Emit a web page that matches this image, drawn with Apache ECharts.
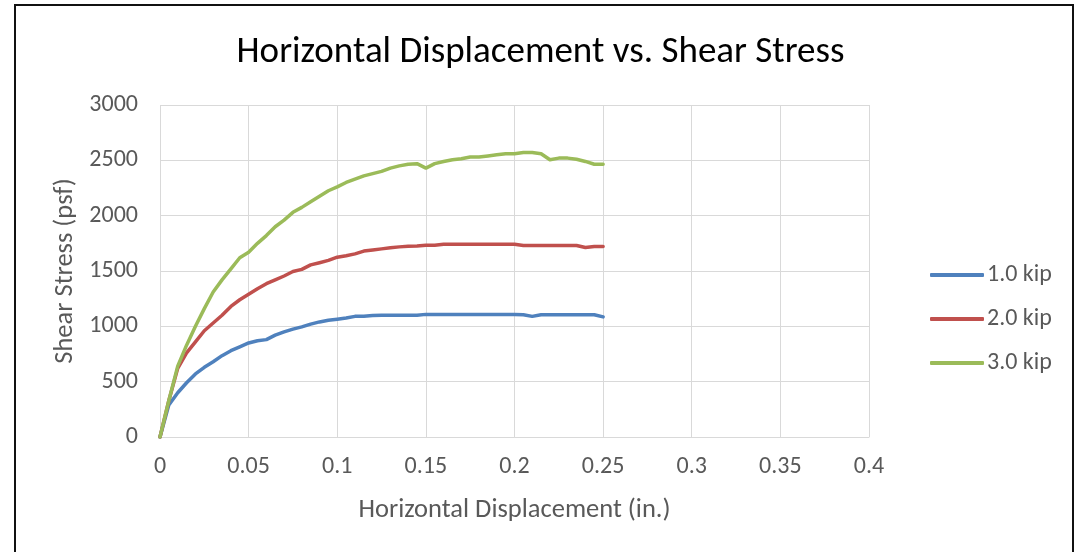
<!DOCTYPE html>
<html>
<head>
<meta charset="utf-8">
<title>Horizontal Displacement vs. Shear Stress</title>
<script src="https://cdn.jsdelivr.net/npm/echarts@6/dist/echarts.min.js"></script>
<style>
  html, body { margin: 0; padding: 0; background: #fff; }
  #chart { width: 1081px; height: 552px; }
</style>
</head>
<body>
<div id="chart"></div>
<script>
// horizontal displacement (in.)
const displacement = [
  0, 0.005, 0.01, 0.015, 0.02, 0.025, 0.03, 0.035, 0.04, 0.045,
  0.05, 0.055, 0.06, 0.065, 0.07, 0.075, 0.08, 0.085, 0.09, 0.095,
  0.1, 0.105, 0.11, 0.115, 0.12, 0.125, 0.13, 0.135, 0.14, 0.145,
  0.15, 0.155, 0.16, 0.165, 0.17, 0.175, 0.18, 0.185, 0.19, 0.195,
  0.2, 0.205, 0.21, 0.215, 0.22, 0.225, 0.23, 0.235, 0.24, 0.245,
  0.25
]

// shear stress (psf) per normal load
const stress1kip = [
  0, 290, 400, 490, 570, 630, 680, 735, 780, 815,
  850, 870, 880, 920, 950, 975, 995, 1020, 1040, 1055,
  1065, 1075, 1090, 1092, 1098, 1100, 1100, 1100, 1100, 1100,
  1108, 1108, 1108, 1108, 1108, 1108, 1108, 1108, 1108, 1108,
  1108, 1105, 1090, 1105, 1105, 1105, 1105, 1105, 1105, 1105,
  1085
]
const stress2kip = [
  0, 330, 620, 760, 860, 960, 1030, 1100, 1180, 1240,
  1290, 1340, 1385, 1420, 1455, 1495, 1515, 1555, 1575, 1596,
  1625, 1638, 1655, 1680, 1690, 1700, 1710, 1718, 1723, 1726,
  1732, 1733, 1741, 1741, 1741, 1741, 1741, 1741, 1741, 1741,
  1741, 1730, 1730, 1730, 1730, 1730, 1730, 1730, 1712, 1722,
  1722
]
const stress3kip = [
  0, 330, 640, 830, 1000, 1160, 1310, 1420, 1520, 1620,
  1670, 1750, 1820, 1900, 1960, 2030, 2075, 2125, 2175, 2225,
  2260, 2300, 2330, 2360, 2380, 2400, 2430, 2450, 2465, 2470,
  2430, 2470, 2490, 2505, 2515, 2530, 2530, 2540, 2550, 2560,
  2560, 2570, 2570, 2560, 2505, 2520, 2520, 2510, 2490, 2465,
  2465
]

const seriesNames = ['1.0 kip', '2.0 kip', '3.0 kip']
const seriesColors = ['#4f81bd', '#c0504d', '#9bbb59']
const seriesData = [stress1kip, stress2kip, stress3kip]

const font = 'Carlito, "Open Sans", "Liberation Sans", sans-serif'
const chart = echarts.init(document.getElementById('chart'))

chart.setOption({
  animation: false,
  backgroundColor: '#fff',
  textStyle: { fontFamily: font },
  title: {
    text: 'Horizontal Displacement vs. Shear Stress',
    left: 'center',
    top: 29,
    textStyle: { fontFamily: font, fontSize: 37, fontWeight: 'normal', color: '#000' }
  },
  // chart frame (bottom edge is cut off in the original)
  graphic: [{
    type: 'rect',
    shape: { x: 15, y: 5, width: 1058, height: 570 },
    style: { fill: 'none', stroke: '#111', lineWidth: 2 },
    silent: true
  }],
  legend: {
    orient: 'vertical',
    left: 925,
    top: 258,
    itemGap: 20,
    itemWidth: 54,
    itemHeight: 4,
    icon: 'roundRect',
    data: seriesNames,
    textStyle: { fontFamily: font, fontSize: 24, color: '#595959', padding: [0, 0, 0, -2] }
  },
  grid: { left: 160, right: 212, top: 105, bottom: 115 },
  xAxis: {
    type: 'value',
    min: 0,
    max: 0.4,
    interval: 0.05,
    name: 'Horizontal Displacement (in.)',
    nameLocation: 'middle',
    nameGap: 60,
    nameTextStyle: { fontFamily: font, fontSize: 26.5, color: '#595959' },
    axisLine: { show: true, lineStyle: { color: '#d9d9d9', width: 1 } },
    axisTick: { show: false },
    axisLabel: { fontFamily: font, fontSize: 24, color: '#595959', margin: 18 },
    splitLine: { show: true, lineStyle: { color: '#d9d9d9', width: 1 } }
  },
  yAxis: {
    type: 'value',
    min: 0,
    max: 3000,
    interval: 500,
    name: 'Shear Stress (psf)',
    nameLocation: 'middle',
    nameGap: 80,
    nameTextStyle: { fontFamily: font, fontSize: 26.5, color: '#595959' },
    axisLine: { show: false },
    axisTick: { show: false },
    axisLabel: {
      fontFamily: font, fontSize: 24, color: '#595959', margin: 22,
      formatter: v => String(v)
    },
    splitLine: { show: true, lineStyle: { color: '#d9d9d9', width: 1 } }
  },
  series: seriesNames.map((name, i) => ({
    name: name,
    type: 'line',
    data: displacement.map((x, j) => [x, seriesData[i][j]]),
    showSymbol: false,
    symbol: 'none',
    lineStyle: { color: seriesColors[i], width: 3.5, cap: 'round', join: 'round' },
    itemStyle: { color: seriesColors[i] }
  }))
})
</script>
</body>
</html>
